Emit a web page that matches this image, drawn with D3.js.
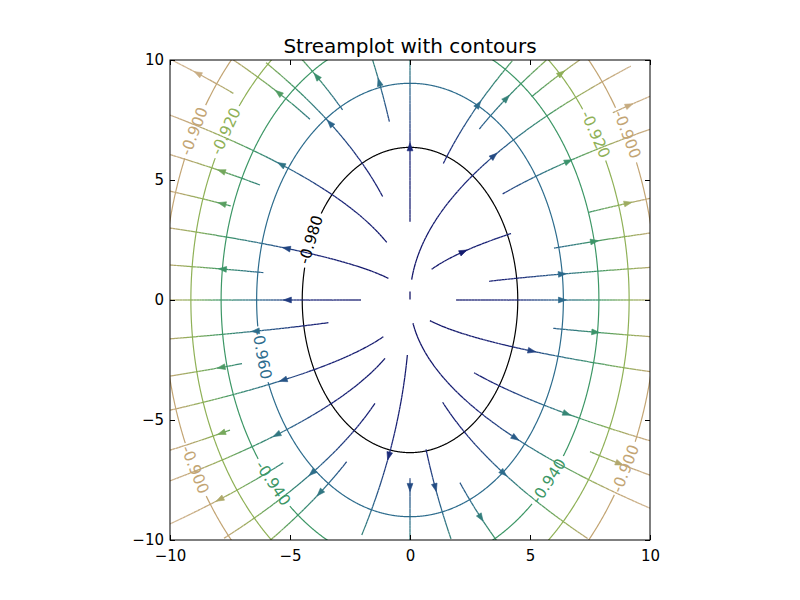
<!DOCTYPE html>
<html><head><meta charset="utf-8">
<script src="https://cdn.jsdelivr.net/npm/d3@7"></script>
<style>body{margin:0;background:#fff} text{font-family:"DejaVu Sans",sans-serif}</style>
</head><body><svg id="c" width="800" height="600"></svg>
<script>
// ---- data ----
const xTicks = [-10, -5, 0, 5, 10];
const yTicks = [-10, -5, 0, 5, 10];
const contourLevels = [-0.98, -0.96, -0.94, -0.92, -0.90];
const contourRx = [4.49, 6.39, 7.87, 9.13, 10.27];   // half-width of each contour ellipse
const contourRy = [6.36, 9.03, 11.13, 12.91, 14.52]; // half-height of each contour ellipse
const contourColors = ["#000000", "#2d6c8d", "#3d9766", "#8fb157", "#c3a574"];
const streamColors = ["#0c0c62", "#1a2578", "#2c6a8c", "#3c9568", "#8caf56", "#c0a575", "#d6bb9c"];
const labelLevel = [0, 1, 2, 2, 3, 3, 4, 4, 4, 4];
const labelX = [-4.04, -6.125, -5.71, 5.75, -7.625, 7.79, -9.0, 9.08, -8.875, 9.0];
const labelY = [2.46, -2.25, -7.625, -7.5, 7.0, 6.96, 7.04, 6.92, -7.0, -7.04];
// streamlines: start point, end point, arrow point
const streamStart = [
  [-7.36,8.61],[-4.17,7.53],[-2.81,7.92],[-0.86,7.43],[-1.14,4.31],[-0.97,2.40],[-6.25,4.79],
  [-7.47,3.92],[-0.90,0.90],[-6.11,1.14],[-2.04,0],[0,3.26],
  [1.39,5.69],[2.89,7.125],[5.07,8.47],[0.07,0.85],[8.45,7.8],[3.86,4.42],[7.43,3.65],
  [0.90,1.28],[6.0,2.16],[3.30,0.78],[1.92,0],
  [5.97,-1.18],[0.83,-0.86],[2.67,-3.03],[7.5,-6.32],[0.125,-0.97],[1.36,-4.26],[2.08,-7.61],
  [0.667,-6.22],[0,-7.43],
  [-0.11,-2.29],[-2.64,-6.74],[-1.46,-4.31],[-5.28,-6.78],[-1.04,-2.43],[-7.5,-5.42],
  [-1.11,-1.53],[-7.0,-2.65],[-3.40,-0.944],[0,0.02]
];
const streamEnd = [
  [-9.86,9.96],[-7.5,10],[-4.51,10],[-1.6,10],[-6.0,10],[-10,7.6],[-10,6.06],
  [-10,4.53],[-10,3.0],[-10,1.46],[-10,0],[0,10],
  [4.26,10],[5.68,10],[7.08,10],[9.2,10],[10,8.54],[10,7.12],[10,4.24],
  [4.21,2.78],[10,2.78],[10,1.34],[10,0],
  [10,-1.53],[10,-2.98],[10,-5.87],[10,-7.3],[10,-8.69],[7.4,-10],[3.61,-10],
  [1.71,-10],[0,-10],
  [-2.01,-10],[-5.85,-10],[-7.75,-10],[-10,-9.33],[-10,-7.65],[-10,-6.25],
  [-10,-4.5],[-10,-3.15],[-10,-1.64],[0,0.35]
];
const streamArrow = [
  [-8.82,9.44],[-5.49,8.61],[-3.89,9.30],[-1.28,9.10],[-3.26,7.47],[-5.42,5.60],[-7.85,5.35],
  [-7.85,4.0],[-5.17,2.11],[-7.8,1.28],[-5.10,0],[0,6.36],
  [2.82,8.17],[4.0,8.40],[6.32,9.42],[3.51,6.0],[9.1,8.17],[6.60,5.79],[9.07,4.03],
  [2.22,2.01],[7.71,2.44],[6.35,1.07],[6.35,0],
  [7.71,-1.35],[5.07,-2.125],[6.53,-4.75],[8.75,-6.8],[4.375,-5.75],[3.89,-7.22],[2.99,-9.07],
  [1.04,-7.85],[0,-7.78],
  [-0.90,-6.53],[-3.78,-8.03],[-4.05,-7.22],[-7.92,-8.30],[-5.49,-5.69],[-7.85,-5.56],
  [-5.25,-3.35],[-7.85,-2.81],[-6.46,-1.32],null
];

// ---- drawing ----
const svg = d3.select("#c");
const x = d3.scaleLinear().domain([-10, 10]).range([170, 650]);
const y = d3.scaleLinear().domain([-10, 10]).range([540, 60]);
svg.append("clipPath").attr("id", "clip").append("rect")
  .attr("x", 170).attr("y", 60).attr("width", 480).attr("height", 480);
const plot = svg.append("g").attr("clip-path", "url(#clip)");

const k = d3.mean(contourRx.map((r, i) => r / contourRy[i]));
const rho = (px, py) => Math.sqrt(px * px + (py * k) * (py * k));
const color = d3.scaleLinear()
  .domain([0, ...contourRx, 12.3]).range(streamColors).clamp(true);

// contour labels (measure first)
const labelG = svg.append("g");
const labels = labelLevel.map((li, i) => {
  const rx = contourRx[li], ry = contourRy[li];
  const s = 1 / Math.sqrt(labelX[i] ** 2 / rx ** 2 + labelY[i] ** 2 / ry ** 2);
  const lx = labelX[i] * s, ly = labelY[i] * s;
  const tx = -ly / (ry * ry), ty = lx / (rx * rx);
  const sdx = x(tx) - x(0), sdy = y(ty) - y(0);
  let ang = Math.atan2(sdy, sdx) * 180 / Math.PI;
  if (ang > 90) ang -= 180;
  if (ang <= -90) ang += 180;
  const cx = x(lx), cy = y(ly);
  const t = labelG.append("text")
    .attr("x", cx).attr("y", cy)
    .attr("text-anchor", "middle").attr("dominant-baseline", "central")
    .attr("font-size", 15.5).attr("fill", contourColors[li])
    .attr("transform", `rotate(${ang},${cx},${cy})`)
    .text(d3.format(".3f")(contourLevels[li]).replace("−", "-"));
  return { li, cx, cy, half: t.node().getComputedTextLength() / 2 + 3 };
});

// contours with gaps under labels
const line = d3.line();
contourLevels.forEach((lev, li) => {
  const rx = contourRx[li], ry = contourRy[li];
  const pts = d3.range(0, 1441).map(j => {
    const th = j / 1440 * 2 * Math.PI;
    return [x(rx * Math.cos(th)), y(ry * Math.sin(th))];
  });
  const segs = []; let cur = [];
  pts.forEach(p => {
    const gap = labels.some(L => L.li === li && Math.hypot(p[0] - L.cx, p[1] - L.cy) < L.half);
    if (gap) { if (cur.length > 1) segs.push(cur); cur = []; }
    else cur.push(p);
  });
  if (cur.length > 1) segs.push(cur);
  segs.forEach(sg => plot.append("path").attr("d", line(sg))
    .attr("fill", "none").attr("stroke", contourColors[li]).attr("stroke-width", 1.2));
});

// streamlines
const streamG = plot.append("g");
const binW = 0.12;
streamStart.forEach((s, i) => {
  const e = streamEnd[i];
  const [x0, y0] = s;
  let t1;
  if (Math.abs(x0) < 1e-6) t1 = 2 * Math.log(e[1] / y0);
  else t1 = Math.log(e[0] / x0);
  const fine = d3.range(0, 2001).map(j => {
    const t = t1 * j / 2000;
    return [x0 * Math.exp(t), y0 * Math.exp(t / 2)];
  });
  const pts = [fine[0]];
  for (let j = 1; j < fine.length; j++) {
    const a = pts[pts.length - 1], b = fine[j];
    if (Math.hypot(x(b[0]) - x(a[0]), y(b[1]) - y(a[1])) >= 1.5 || j === fine.length - 1) pts.push(b);
  }
  let run = [pts[0]];
  let bin = Math.floor(rho(pts[0][0], pts[0][1]) / binW);
  const flush = () => {
    if (run.length > 1) {
      const m = run[Math.floor(run.length / 2)];
      streamG.append("path")
        .attr("d", d3.line().x(d => x(d[0])).y(d => y(d[1]))(run))
        .attr("fill", "none").attr("stroke", color(rho(m[0], m[1])))
        .attr("stroke-width", 1.25);
    }
  };
  for (let j = 1; j < pts.length; j++) {
    run.push(pts[j]);
    const b = Math.floor(rho(pts[j][0], pts[j][1]) / binW);
    if (b !== bin || j === pts.length - 1) { flush(); run = [pts[j]]; bin = b; }
  }
  const ar = streamArrow[i];
  if (ar) {
    let bi = 1, bd = Infinity;
    for (let j = 1; j < pts.length - 1; j++) {
      const d = Math.hypot(pts[j][0] - ar[0], pts[j][1] - ar[1]);
      if (d < bd) { bd = d; bi = j; }
    }
    const p = pts[bi], pa = pts[bi - 1], pb = pts[bi + 1];
    let dx = x(pb[0]) - x(pa[0]), dy = y(pb[1]) - y(pa[1]);
    const L = Math.hypot(dx, dy); dx /= L; dy /= L;
    const cx = x(p[0]), cy = y(p[1]);
    const hl = 4, hw = 2.9;
    const tip = [cx + dx * hl, cy + dy * hl];
    const b1 = [cx - dx * hl - dy * hw, cy - dy * hl + dx * hw];
    const b2 = [cx - dx * hl + dy * hw, cy - dy * hl - dx * hw];
    const c = color(rho(p[0], p[1]));
    streamG.append("path").attr("d", `M${tip}L${b1}L${b2}Z`)
      .attr("fill", c).attr("stroke", c).attr("stroke-width", 0.6);
  }
});

// axes
const fmt = d3.format("d");
const ax = svg.append("g");
ax.append("g").attr("transform", "translate(0,540)")
  .call(d3.axisBottom(x).tickValues(xTicks).tickSizeInner(-5).tickSizeOuter(0).tickPadding(10).tickFormat(fmt));
ax.append("g").attr("transform", "translate(0,60)")
  .call(d3.axisTop(x).tickValues(xTicks).tickSizeInner(-5).tickSizeOuter(0).tickFormat(""));
ax.append("g").attr("transform", "translate(170,0)")
  .call(d3.axisLeft(y).tickValues(yTicks).tickSizeInner(-5).tickSizeOuter(0).tickPadding(6).tickFormat(fmt));
ax.append("g").attr("transform", "translate(650,0)")
  .call(d3.axisRight(y).tickValues(yTicks).tickSizeInner(-5).tickSizeOuter(0).tickFormat(""));
ax.selectAll(".domain").remove();
ax.selectAll("g").attr("font-size", 15).attr("font-family", "DejaVu Sans");
ax.selectAll("text").attr("fill", "#000");
ax.selectAll("line").attr("stroke", "#000");
svg.append("rect").attr("x", 170).attr("y", 60).attr("width", 480).attr("height", 480)
  .attr("fill", "none").attr("stroke", "#000").attr("stroke-width", 1);

svg.append("text").attr("x", 410).attr("y", 53).attr("text-anchor", "middle")
  .attr("font-size", 20).text("Streamplot with contours");
</script></body></html>
